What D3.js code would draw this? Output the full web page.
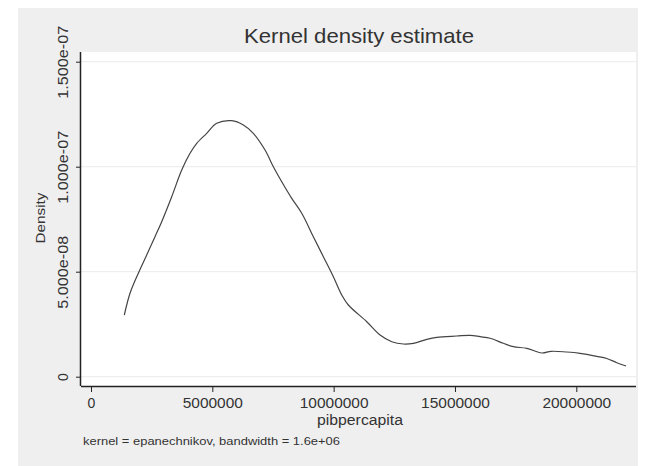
<!DOCTYPE html>
<html><head><meta charset="utf-8">
<script src="https://cdn.jsdelivr.net/npm/d3@7"></script>
<style>body{margin:0;background:#fff}svg{display:block}text{font-family:"Liberation Sans",Arial,sans-serif}</style>
</head><body>
<script>
const xVals = [1.373e6,1.608e6,1.95e6,2.296e6,2.638e6,2.914e6,3.326e6,3.739e6,4.081e6,4.357e6,4.769e6,5.181e6,5.8e6,6.278e6,6.69e6,7.172e6,7.515e6,7.861e6,8.273e6,8.685e6,9.163e6,9.576e6,9.988e6,10.334e6,10.606e6,11.364e6,11.913e6,12.395e6,12.873e6,13.285e6,13.838e6,14.25e6,15.074e6,15.623e6,16.035e6,16.447e6,16.995e6,17.407e6,17.96e6,18.578e6,18.961e6,19.609e6,20.157e6,20.845e6,21.257e6,21.669e6,22.053e6];
const densVals = [2.938e-8,3.971e-8,4.924e-8,5.795e-8,6.667e-8,7.381e-8,8.571e-8,9.843e-8,10.638e-8,11.114e-8,11.59e-8,12.067e-8,12.19e-8,11.986e-8,11.59e-8,10.795e-8,10.0e-8,9.286e-8,8.495e-8,7.781e-8,6.667e-8,5.714e-8,4.762e-8,3.89e-8,3.414e-8,2.619e-8,1.986e-8,1.667e-8,1.557e-8,1.59e-8,1.781e-8,1.876e-8,1.938e-8,1.971e-8,1.905e-8,1.829e-8,1.59e-8,1.429e-8,1.352e-8,1.129e-8,1.21e-8,1.176e-8,1.114e-8,0.971e-8,0.867e-8,0.667e-8,0.51e-8];
const xTicks = [0,5000000,10000000,15000000,20000000];
const yTicks = [0,5e-8,1e-7,1.5e-7];
const yTickLabels = ["0","5.000e-08","1.000e-07","1.500e-07"];
const title = "Kernel density estimate";
const xTitle = "pibpercapita";
const yTitle = "Density";
const note = "kernel = epanechnikov, bandwidth = 1.6e+06";

const W=654,H=466;
const svg=d3.select("body").append("svg").attr("width",W).attr("height",H);
svg.append("rect").attr("x",18).attr("y",8).attr("width",620).attr("height",458).attr("fill","#efefef");
const L=81,R=636,T=52,B=386;
svg.append("rect").attr("x",L).attr("y",T).attr("width",R-L).attr("height",B-T).attr("fill","#fff");
const x=d3.scaleLinear().domain([0,20000000]).range([91,576.3]);
const y=d3.scaleLinear().domain([0,1.5e-7]).range([376.7,61.7]);
// grid
svg.append("g").selectAll("line").data(yTicks).join("line")
 .attr("x1",L).attr("x2",R).attr("y1",d=>y(d)).attr("y2",d=>y(d))
 .attr("stroke","#eaeaea").attr("stroke-width",1);
// curve
const pts=xVals.map((v,i)=>[v,densVals[i]]);
svg.append("path").datum(pts).attr("fill","none").attr("stroke","#444").attr("stroke-width",1.2)
 .attr("d",d3.line().x(d=>x(d[0])).y(d=>y(d[1])).curve(d3.curveCatmullRom.alpha(0.5)));
// axes
const xAxis=svg.append("g").attr("transform",`translate(0,${B})`)
 .call(d3.axisBottom(x).tickValues(xTicks).tickFormat(d3.format("d")).tickSize(6).tickPadding(5));
xAxis.select(".domain").attr("d",`M${L},0.5H${R}`).attr("stroke","#222").attr("stroke-width",1.5);
xAxis.selectAll(".tick line").attr("stroke","#222");
xAxis.selectAll("text").attr("font-size",14).attr("fill","#333").attr("font-family","Liberation Sans, Arial, sans-serif").attr("dy","0.75em")
 .each(function(){ const n=this.textContent.length; if(n>1) d3.select(this).attr("textLength",n*8.6).attr("lengthAdjust","spacingAndGlyphs"); });
const yAxis=svg.append("g").attr("transform",`translate(${L},0)`)
 .call(d3.axisLeft(y).tickValues(yTicks).tickFormat((d,i)=>yTickLabels[i]).tickSize(5).tickPadding(4));
yAxis.select(".domain").attr("d",`M-0.5,${T}V${B}`).attr("stroke","#222").attr("stroke-width",1.5);
yAxis.selectAll(".tick line").attr("stroke","#222");
yAxis.selectAll(".tick text").attr("font-size",14).attr("fill","#333").attr("font-family","Liberation Sans, Arial, sans-serif")
 .attr("transform","rotate(-90)").attr("x",0).attr("y",-13).attr("dy","0").attr("text-anchor","middle")
 .each(function(){ const n=this.textContent.length; if(n>1) d3.select(this).attr("textLength",73).attr("lengthAdjust","spacingAndGlyphs"); });
// titles
svg.append("text").attr("x",359).attr("y",43).attr("text-anchor","middle").attr("font-size",21).attr("fill","#333")
 .attr("textLength",230).attr("lengthAdjust","spacingAndGlyphs").text(title);
svg.append("text").attr("x",360).attr("y",425).attr("text-anchor","middle").attr("font-size",14).attr("fill","#333")
 .attr("textLength",86).attr("lengthAdjust","spacingAndGlyphs").text(xTitle);
svg.append("text").attr("transform","translate(45,218) rotate(-90)").attr("text-anchor","middle").attr("font-size",13).attr("fill","#333")
 .attr("textLength",51).attr("lengthAdjust","spacingAndGlyphs").text(yTitle);
svg.append("text").attr("x",83).attr("y",445).attr("font-size",10.5).attr("fill","#333").attr("textLength",257).attr("lengthAdjust","spacingAndGlyphs").text(note);
</script>
</body></html>
